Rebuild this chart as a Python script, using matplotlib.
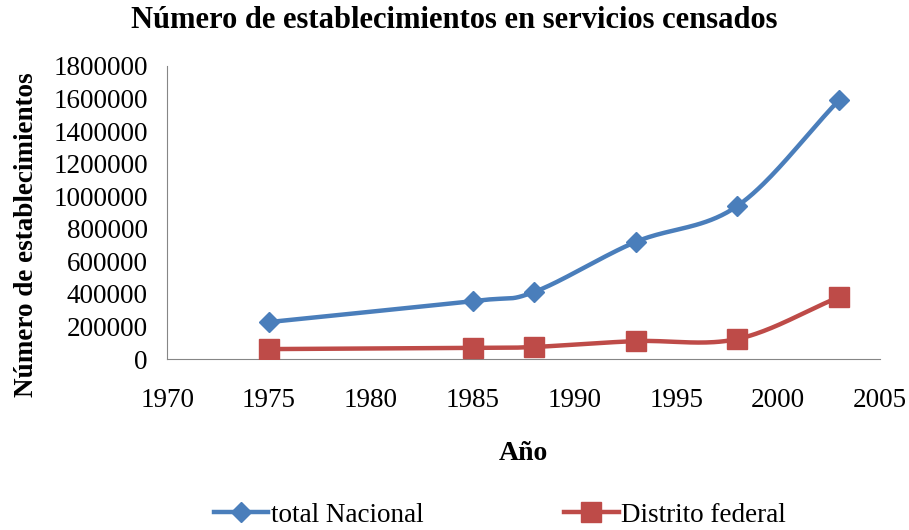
import matplotlib.pyplot as plt
import numpy as np

# data
years = [1975, 1985, 1988, 1993, 1998, 2003]
total_nacional = [227000, 356000, 411000, 719000, 940000, 1591000]
distrito_federal = [61000, 68000, 74000, 110000, 123000, 381000]

plt.rcParams['font.family'] = ['Liberation Serif', 'DejaVu Serif']


def smooth(x, y, n=40):
    # Catmull-Rom style smoothing like Excel "smoothed line"
    x = np.asarray(x, float)
    y = np.asarray(y, float)
    px = np.concatenate([[2 * x[0] - x[1]], x, [2 * x[-1] - x[-2]]])
    py = np.concatenate([[2 * y[0] - y[1]], y, [2 * y[-1] - y[-2]]])
    xs, ys = [], []
    t = np.linspace(0, 1, n)
    for i in range(1, len(px) - 2):
        for arr, out in ((px, xs), (py, ys)):
            p0, p1, p2, p3 = arr[i - 1], arr[i], arr[i + 1], arr[i + 2]
            out.extend(0.5 * ((2 * p1) + (-p0 + p2) * t
                              + (2 * p0 - 5 * p1 + 4 * p2 - p3) * t ** 2
                              + (-p0 + 3 * p1 - 3 * p2 + p3) * t ** 3))
    return xs, ys


blue = '#4A7EBB'
red = '#BE4B48'

fig = plt.figure(figsize=(9.09, 5.30), dpi=100)
ax = fig.add_axes([0.184, 0.3226, 0.784, 0.553])

sx, sy = smooth(years, total_nacional)
ax.plot(sx, sy, color=blue, lw=3.2, zorder=2)
ax.plot(years, total_nacional, ls='none', marker='D', ms=10.5, color=blue, zorder=3)
sx, sy = smooth(years, distrito_federal)
ax.plot(sx, sy, color=red, lw=3.2, zorder=2)
ax.plot(years, distrito_federal, ls='none', marker='s', ms=14, color=red, zorder=3)

ax.set_xlim(1970, 2005)
ax.set_ylim(0, 1800000)
ax.set_xticks(range(1970, 2006, 5))
ax.set_yticks(range(0, 1800001, 200000))
ax.set_yticklabels([str(v) for v in range(0, 1800001, 200000)])
ax.tick_params(labelsize=19.5, length=0)
ax.tick_params(axis='y', pad=14)
ax.tick_params(axis='x', pad=21)
for s in ('top', 'right'):
    ax.spines[s].set_visible(False)
for s in ('left', 'bottom'):
    ax.spines[s].set_color('#868686')

fig.text(0.5, 1 - 20 / 530, 'Número de establecimientos en servicios censados',
         fontsize=22, fontweight='bold', ha='center', va='center')
ax.set_xlabel('Año', fontsize=20, fontweight='bold', labelpad=20)
fig.text(27 / 909, 1 - 235 / 530, 'Número de establecimientos', rotation=90,
         fontsize=19.5, fontweight='bold', ha='center', va='center')

h1, = plt.plot([], [], color=blue, lw=3.2, marker='D', ms=10.5)
h2, = plt.plot([], [], color=red, lw=3.2, marker='s', ms=14)
fig.legend([h1, h2], ['total Nacional', 'Distrito federal'],
           loc='center', bbox_to_anchor=(500 / 909, 0.028), ncol=2,
           frameon=False, fontsize=19.5, handlelength=2.0, handletextpad=0.1,
           columnspacing=5.2)

fig.savefig('out.png', dpi=100)
